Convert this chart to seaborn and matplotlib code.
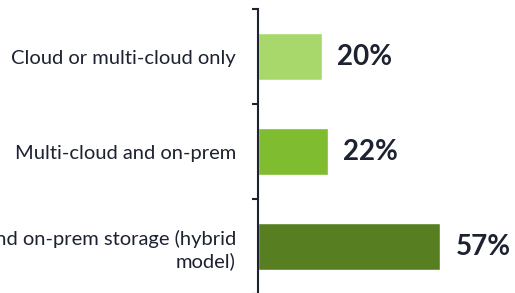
import matplotlib
matplotlib.use("Agg")
import matplotlib.pyplot as plt
import seaborn as sns
import pandas as pd
from matplotlib.ticker import FixedLocator

categories = ["Cloud or multi-cloud only",
              "Multi-cloud and on-prem",
              "Cloud and on-prem storage (hybrid\nmodel)"]
values = [20, 22, 57]
value_labels = ["20%", "22%", "57%"]
colors = ["#A8D86B", "#80BC30", "#577F22"]

sns.set_style("white")
plt.rcParams['font.family'] = ['Lato', 'DejaVu Sans']
text_color = "#1C2230"

df = pd.DataFrame({"cat": categories, "val": values})

fig = plt.figure(figsize=(5.15, 2.93), dpi=100)
ax = fig.add_axes([258/515, -1/293, 1 - 258/515, 1 - 8/293])
sns.barplot(data=df, x="val", y="cat", hue="cat", palette=colors,
            orient="h", width=0.49, legend=False, ax=ax, saturation=1)

ax.set_xlim(0, 257/3.2)
ax.set_ylim(2.5, -0.5)
ax.set_xlabel("")
ax.set_ylabel("")
ax.set_xticks([])

for s in ["top", "right", "bottom"]:
    ax.spines[s].set_visible(False)
ax.spines["left"].set_linewidth(1.5)
ax.spines["left"].set_color(text_color)

ax.yaxis.set_major_locator(FixedLocator([-0.5, 0.5, 1.5, 2.5]))
ax.yaxis.set_minor_locator(FixedLocator([0, 1, 2]))
ax.set_yticklabels([], minor=False)
ax.set_yticklabels(categories, minor=True)
ax.tick_params(axis="y", which="major", left=True, length=4, width=1.5,
               color=text_color, direction="out")
ax.tick_params(axis="y", which="minor", left=True, length=0, pad=16,
               labelsize=14.5, labelcolor=text_color)
for lbl in ax.get_yticklabels(minor=True):
    lbl.set_horizontalalignment("right")
    lbl.set_multialignment("right")
    lbl.set_linespacing(1.3)

for i, (v, t) in enumerate(zip(values, value_labels)):
    ax.annotate(t, xy=(v, i), xytext=(15, 0), textcoords="offset pixels",
                ha="left", va="center", fontsize=20, fontweight="bold",
                color=text_color)

fig.savefig("out.png", dpi=100)
